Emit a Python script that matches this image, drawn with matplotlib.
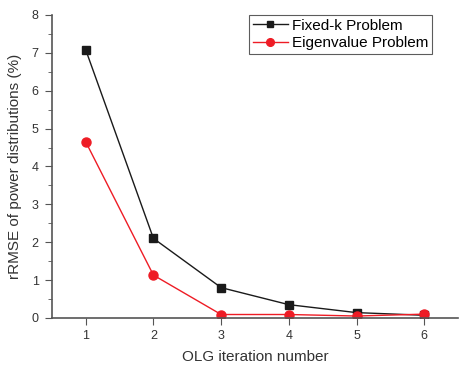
import matplotlib
matplotlib.use("Agg")
import matplotlib.pyplot as plt
from matplotlib.ticker import MultipleLocator

plt.rcParams['font.family'] = ['Liberation Sans', 'DejaVu Sans']

iterations = [1, 2, 3, 4, 5, 6]
fixed_k = [7.08, 2.10, 0.80, 0.35, 0.14, 0.07]
eigenvalue = [4.65, 1.13, 0.09, 0.09, 0.05, 0.10]

fig = plt.figure(figsize=(4.59, 3.65), dpi=100)
ax = fig.add_axes([0.113, 0.129, 0.885, 0.830])

ax.plot(iterations, fixed_k, color='#1a1a1a', lw=1, marker='s', ms=5.5,
        label='Fixed-k Problem')
ax.plot(iterations, eigenvalue, color='#ee1c25', lw=1, marker='o', ms=6.5,
        label='Eigenvalue Problem')

ax.set_xlim(0.5, 6.5)
ax.set_ylim(0, 8)
ax.set_xticks(iterations)
ax.yaxis.set_major_locator(MultipleLocator(1))
ax.yaxis.set_minor_locator(MultipleLocator(0.5))
for s in ['top', 'right']:
    ax.spines[s].set_visible(False)
for s in ['left', 'bottom']:
    ax.spines[s].set_color('#555555')
    ax.spines[s].set_linewidth(1.2)
ax.tick_params(axis='both', which='major', direction='out', length=5,
               color='#555555', labelsize=9, labelcolor='#333333')
ax.tick_params(axis='y', which='major', pad=4.5)
ax.tick_params(axis='y', which='minor', direction='out', length=3, color='#555555')
ax.set_xlabel('OLG iteration number', fontsize=11, color='#333333', labelpad=6)
ax.set_ylabel('rRMSE of power distributions (%)', fontsize=11, color='#333333',
              labelpad=7)

leg = ax.legend(loc='upper right', bbox_to_anchor=(0.937, 1.0), fontsize=11,
                frameon=True, fancybox=False, edgecolor='#333333',
                handlelength=2.3, borderpad=0.25, labelspacing=0.22,
                handletextpad=0.3, borderaxespad=0.0, markerscale=0.85)
leg.get_frame().set_linewidth(0.8)

fig.savefig('out.png', dpi=100)
